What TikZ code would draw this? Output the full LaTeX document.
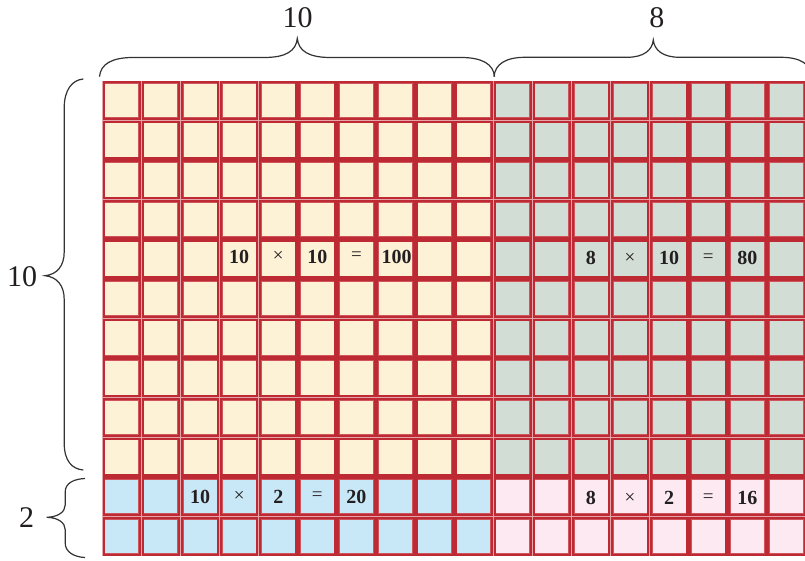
\documentclass[tikz,border=0pt]{standalone}
\usepackage{fontspec}
\setmainfont{Liberation Serif}
\definecolor{cOr}{HTML}{FDF1D6}
\definecolor{cGr}{HTML}{D1DDD5}
\definecolor{cBl}{HTML}{C8E8F7}
\definecolor{cPk}{HTML}{FCE9F1}
\definecolor{cRed}{HTML}{BE2A33}
\definecolor{cInner}{HTML}{D0545B}
\definecolor{cGap}{HTML}{E6A3A8}
\definecolor{cText}{HTML}{231F20}
\definecolor{cBrace}{HTML}{333333}
\tikzset{
  celltxt/.style={inner sep=0pt, text=cText, font=\bfseries\fontsize{20}{20}\selectfont},
  opstyle/.style={inner sep=0pt, text=cText, font=\fontsize{19}{19}\selectfont},
  biglabel/.style={inner sep=0pt, text=cText, font=\fontsize{30}{30}\selectfont},
  bracestyle/.style={draw=cBrace, line width=1.2pt}
}
\begin{document}
\begin{tikzpicture}[x=1pt,y=-1pt]
\path[use as bounding box, clip] (0,0) rectangle (805,561);
\fill[white] (0,0) rectangle (805,561);
\fill[cGap] (102.3,80.7) rectangle (830,556.2);
\foreach \i in {0,...,17}{
  \foreach \j in {0,...,11}{
    \ifnum\i<10 \ifnum\j<10 \def\cc{cOr}\else\def\cc{cBl}\fi\else\ifnum\j<10 \def\cc{cGr}\else\def\cc{cPk}\fi\fi
    \pgfmathsetmacro\xa{102.3+\i*39.1+0.25}
    \pgfmathsetmacro\ya{80.7+\j*39.62+0.25}
    \pgfmathsetmacro\xb{102.3+(\i+1)*39.1-0.25}
    \pgfmathsetmacro\yb{80.7+(\j+1)*39.62-0.25}
    \fill[cRed] (\xa,\ya) rectangle (\xb,\yb);
    \fill[cInner] (\xa+2.2,\ya+2.2) rectangle (\xb-2.2,\yb-2.2);
    \fill[\cc] (\xa+2.8,\ya+2.8) rectangle (\xb-2.8,\yb-2.8);
  }
}
% row 5 texts
\node[celltxt] (a1) at (239.15,256.5) {10};
\node[opstyle] (a2) at (278.25,256.5) {×};
\node[celltxt] (a3) at (317.35,256.5) {10};
\node[opstyle] (a4) at (356.45,256.5) {=};
\node[celltxt] (a5) at (396.5,256.5) {100};
\node[celltxt] (b1) at (590.85,258) {8};
\node[opstyle] (b2) at (629.95,258) {×};
\node[celltxt] (b3) at (669.05,258) {10};
\node[opstyle] (b4) at (708.15,258) {=};
\node[celltxt] (b5) at (747.25,258) {80};
% row 11 texts
\node[celltxt] (c1) at (200.05,496.5) {10};
\node[opstyle] (c2) at (239.15,496.5) {×};
\node[celltxt] (c3) at (278.25,496.5) {2};
\node[opstyle] (c4) at (317.35,496.5) {=};
\node[celltxt] (c5) at (356.45,496.5) {20};
\node[celltxt] (d1) at (590.85,498) {8};
\node[opstyle] (d2) at (629.95,498) {×};
\node[celltxt] (d3) at (669.05,498) {2};
\node[opstyle] (d4) at (708.15,498) {=};
\node[celltxt] (d5) at (747.25,498) {16};
% braces
\draw[bracestyle] (99.5,76.7) .. controls (100.5,64) and (112,57.5) .. (133,57.5) -- (264,57.5)
  .. controls (286,57.5) and (296,51) .. (297.3,38.5)
  .. controls (298.6,51) and (308.6,57.5) .. (330.6,57.5) -- (461,57.5)
  .. controls (482,57.5) and (493.5,64) .. (494.5,76.7);
\draw[bracestyle] (494,76.7) .. controls (495,64) and (506,57.3) .. (525,57.3) -- (627,57.3)
  .. controls (644,57.3) and (652.3,50) .. (653.3,40)
  .. controls (654.3,50) and (662.6,57.3) .. (679.6,57.3) -- (781,57.3)
  .. controls (800,57.3) and (811,64) .. (812,76.7);
\draw[bracestyle] (83.3,79) .. controls (72,80) and (64.2,90) .. (64.2,108) -- (64.2,252)
  .. controls (64.2,266) and (57,274.5) .. (45,275.7)
  .. controls (57,276.9) and (64.2,285.4) .. (64.2,299.4) -- (64.2,443)
  .. controls (64.2,461) and (72,469) .. (83.3,470);
\draw[bracestyle] (85,478.5) .. controls (74,479) and (65.2,483) .. (65.2,492) -- (65.2,505)
  .. controls (65.2,512) and (58,517) .. (46.7,517.3)
  .. controls (58,517.6) and (65.2,522.6) .. (65.2,529.6) -- (65.2,543)
  .. controls (65.2,552) and (74,557) .. (85,557.5);
% labels
\node[biglabel] (t10) at (297.7,17.5) {10};
\node[biglabel] (t8) at (656.8,18) {8};
\node[biglabel] (l10) at (22,276.5) {10};
\node[biglabel] (l2) at (26.5,517.5) {2};
\end{tikzpicture}
\end{document}
